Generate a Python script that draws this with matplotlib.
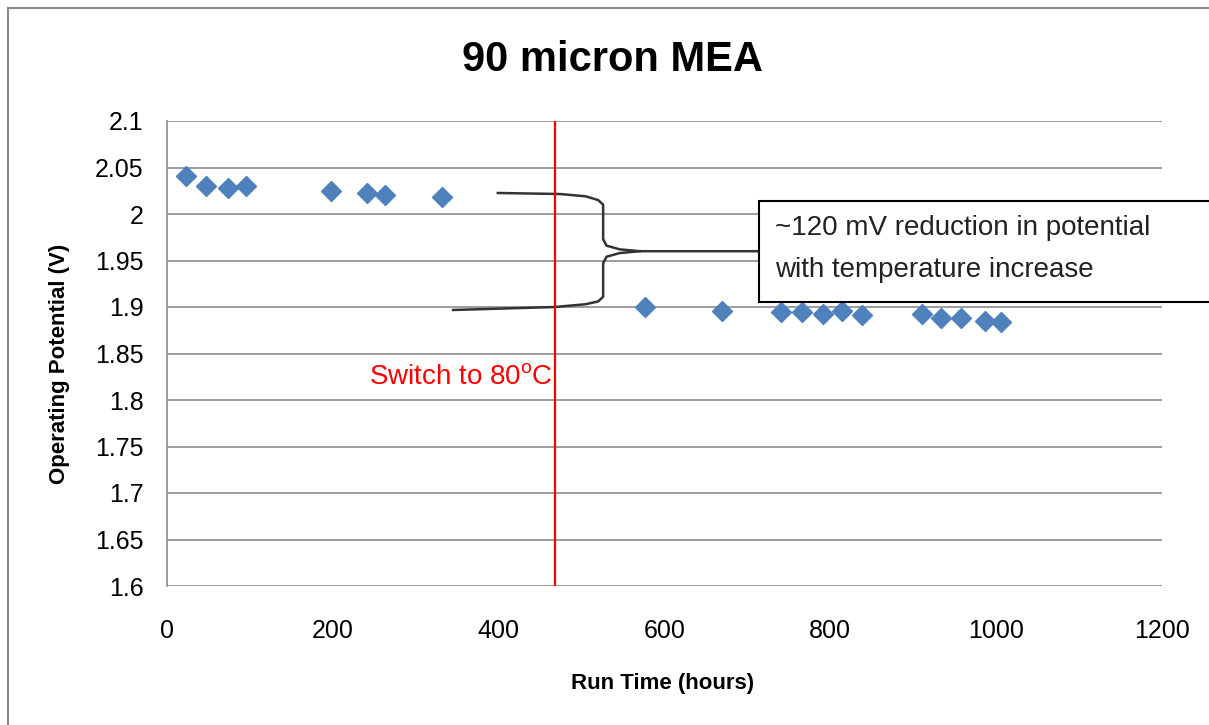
import numpy as np
import matplotlib.pyplot as plt
from matplotlib.lines import Line2D
from matplotlib.patches import Rectangle

plt.rcParams['font.family'] = ['Liberation Sans', 'DejaVu Sans']
plt.rcParams['mathtext.default'] = 'regular'

# data
run_time = [23, 47, 74, 95, 198, 241, 263, 332,
            577, 669, 741, 766, 791, 814, 838, 911, 934, 958, 986, 1006]
potential = [2.041, 2.030, 2.028, 2.030, 2.025, 2.023, 2.020, 2.018,
             1.900, 1.896, 1.895, 1.895, 1.893, 1.896, 1.891, 1.893, 1.888, 1.888, 1.885, 1.884]
switch_time = 468
y_ticks = [1.6, 1.65, 1.7, 1.75, 1.8, 1.85, 1.9, 1.95, 2, 2.05, 2.1]
y_tick_labels = ['1.6', '1.65', '1.7', '1.75', '1.8', '1.85', '1.9', '1.95', '2', '2.05', '2.1']
x_ticks = [0, 200, 400, 600, 800, 1000, 1200]

W, H = 1209, 725
fig = plt.figure(figsize=(W / 100, H / 100), dpi=100)
ax = fig.add_axes([167 / W, 1 - 586 / H, 995 / W, 465 / H])

ax.set_xlim(0, 1200)
ax.set_ylim(1.6, 2.1)
ax.set_yticks(y_ticks)
ax.set_yticklabels(y_tick_labels)
ax.set_xticks(x_ticks)
ax.tick_params(length=0, labelsize=18, colors='black')
ax.tick_params(axis='y', pad=17)
ax.tick_params(axis='x', pad=24)
ax.grid(axis='y', color='#8c8c8c', lw=1.2)
ax.set_axisbelow(True)
for s in ['top', 'right', 'bottom']:
    ax.spines[s].set_visible(False)
ax.spines['left'].set_color('#8c8c8c')
ax.spines['left'].set_linewidth(1.2)

ax.plot(run_time, potential, 'D', color='#4F81BD', ms=10, mec='#4F81BD', zorder=5)

ax.axvline(switch_time, color='#ff0000', lw=1.6, zorder=4)
ax.text(switch_time - 3, 1.825, 'Switch to 80$^{o}$C', color='#ff0000', fontsize=20,
        ha='right', va='center')

# bracket connecting the two levels to the note
top = ([399, 474, 505, 520, 526, 526, 530, 546, 570, 715],
       [2.0226, 2.0215, 2.019, 2.015, 2.010, 1.973, 1.966, 1.962, 1.960, 1.960])
bot = ([345, 468, 505, 520, 526, 526, 530, 546, 570],
       [1.8968, 1.900, 1.903, 1.906, 1.911, 1.947, 1.954, 1.958, 1.960])
ax.plot(*top, color='#333333', lw=1.8, zorder=3)
ax.plot(*bot, color='#333333', lw=1.8, zorder=3)

box = Rectangle((714, 1.9054), 700, 0.1086, facecolor='white', edgecolor='black',
                lw=1.5, zorder=6, clip_on=False)
ax.add_patch(box)
ax.text(733, 1.985, '~120 mV reduction in potential', fontsize=20, va='center',
        color='#222222', zorder=7)
ax.text(733, 1.940, 'with temperature increase', fontsize=20, va='center',
        color='#222222', zorder=7)

fig.text(612 / W, 1 - 60 / H, '90 micron MEA', fontsize=30, fontweight='bold',
         ha='center', va='center')
fig.text(663 / W, 1 - 683 / H, 'Run Time (hours)', fontsize=16, fontweight='bold',
         ha='center', va='center')
fig.text(60 / W, 1 - 364 / H, 'Operating Potential (V)', fontsize=16, fontweight='bold',
         ha='center', va='center', rotation=90)

# outer chart border
fig.add_artist(Line2D([8 / W, 8 / W], [0, 1 - 8 / H], color='#888888', lw=1.5))
fig.add_artist(Line2D([8 / W, 1], [1 - 8 / H, 1 - 8 / H], color='#888888', lw=1.5))

fig.savefig('out.png', dpi=100)
